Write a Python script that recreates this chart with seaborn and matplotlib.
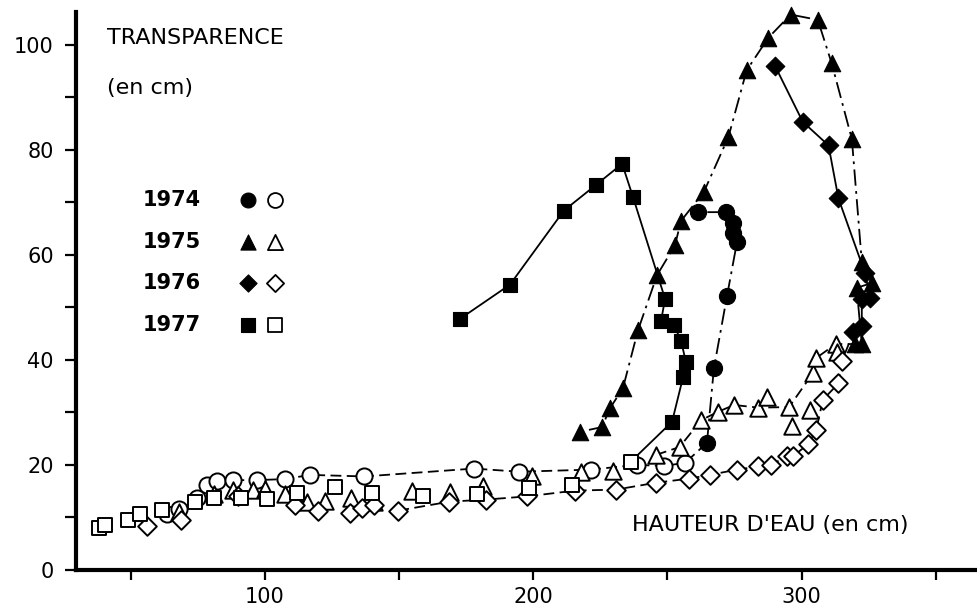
import matplotlib
matplotlib.use("Agg")
import matplotlib.pyplot as plt
from matplotlib.ticker import FixedLocator
import seaborn as sns

# ---- data: water height (cm) vs. Secchi transparency (cm) ----
years = ["1974", "1975", "1976", "1977"]

# 1974 (circles)
open_1974_x = [63.6, 68.1, 74.8, 78.3, 82.2, 88.0, 96.9, 107.5, 116.8, 137.0,
               177.9, 194.8, 221.4, 238.5, 248.7, 256.6]
open_1974_y = [10.7, 11.6, 13.7, 16.2, 17.0, 17.1, 17.1, 17.3, 18.1, 17.8,
               19.3, 18.7, 19.1, 20.0, 19.8, 20.4]
open_1974_joined = [0, 0, 0, 0, 1, 1, 1, 1, 1, 1, 1, 1, 1, 1, 1, 1]
fill_1974_x = [264.7, 267.3, 272.2, 275.9, 274.4, 274.4, 271.8, 261.4]
fill_1974_y = [24.2, 38.4, 52.2, 62.4, 64.1, 66.0, 68.1, 68.1]

# 1975 (triangles)
open_1975_x = [68.1, 81.0, 88.0, 95.6, 100.0, 107.5, 112.0, 115.8, 122.4, 132.1,
               140.6, 154.7, 168.9, 181.4, 199.4, 217.8, 229.7, 245.7, 254.5, 262.5,
               268.8, 274.8, 283.9, 287.0, 295.3, 296.5, 303.1, 304.1, 305.3, 312.7,
               313.1]
open_1975_y = [11.0, 14.5, 15.3, 15.3, 15.4, 14.5, 13.7, 12.9, 13.2, 13.7,
               12.9, 15.1, 14.9, 15.9, 17.8, 18.7, 18.8, 21.9, 23.4, 28.5,
               30.1, 31.4, 30.9, 32.9, 31.0, 27.4, 30.5, 37.4, 40.3, 43.0,
               41.4]
open_1975_joined = [0, 0, 0, 0, 0, 0, 0, 0, 0, 0,
                    0, 0, 0, 0, 0, 0, 0, 1, 1, 1,
                    1, 1, 1, 0, 1, 0, 0, 1, 1, 1,
                    0]
fill_1975_x = [319.9, 322.4, 320.5, 326.1, 322.4, 318.7, 311.2, 306.0, 295.9, 287.6,
               279.5, 272.7, 263.6, 255.0, 252.8, 246.1, 239.0, 233.4, 228.6, 225.6,
               217.4]
fill_1975_y = [43.0, 43.0, 53.7, 54.6, 58.7, 82.0, 96.4, 104.7, 105.7, 101.3,
               95.1, 82.4, 72.0, 66.4, 61.8, 56.1, 45.6, 34.6, 30.8, 27.2,
               26.3]

# 1976 (diamonds)
open_1976_x = [56.1, 68.6, 89.8, 111.2, 119.9, 131.7, 136.0, 140.6, 149.7, 168.7,
               182.4, 197.5, 215.5, 230.8, 245.7, 258.2, 265.9, 275.8, 283.9, 288.5,
               294.4, 296.9, 302.3, 305.4, 307.9, 313.7, 315.0]
open_1976_y = [8.4, 9.6, 14.0, 12.4, 11.3, 10.8, 11.8, 12.4, 11.3, 13.0,
               13.4, 14.0, 15.1, 15.3, 16.6, 17.4, 18.1, 19.1, 19.7, 20.0,
               21.6, 21.7, 23.9, 26.6, 32.4, 35.5, 39.8]
open_1976_joined = [0, 0, 0, 0, 0, 0, 0, 0, 1, 1,
                    1, 1, 1, 1, 1, 1, 1, 1, 1, 1,
                    1, 1, 1, 1, 1, 1, 1]
fill_1976_x = [319.3, 322.4, 322.4, 325.5, 323.6, 313.7, 310.0, 300.4, 290.1]
fill_1976_y = [45.2, 46.4, 51.5, 51.8, 56.5, 70.7, 80.8, 85.3, 95.9]

# 1977 (squares)
open_1977_x = [38.2, 40.4, 49.0, 53.4, 61.5, 73.9, 81.1, 91.0, 100.9, 111.8,
               126.1, 139.8, 159.0, 178.9, 198.5, 214.3, 236.3]
open_1977_y = [8.0, 8.6, 9.6, 10.7, 11.5, 13.0, 13.7, 13.7, 13.5, 14.7,
               15.7, 14.6, 14.0, 14.5, 15.6, 16.2, 20.6]
open_1977_joined = [0, 0, 0, 0, 0, 0, 0, 0, 0, 0,
                    0, 0, 0, 0, 0, 0, 1]
fill_1977_x = [251.7, 255.8, 256.9, 255.1, 252.4, 247.6, 249.1, 237.2, 233.1, 223.4,
               211.4, 191.3, 172.7]
fill_1977_y = [28.2, 36.7, 39.5, 43.5, 46.7, 47.4, 51.6, 70.9, 77.3, 73.3,
               68.4, 54.3, 47.8]

x_ticks = [50, 100, 150, 200, 250, 300, 350]
x_tick_labels = ["", "100", "", "200", "", "300", ""]
y_ticks = [0, 20, 40, 60, 80, 100]
y_minor_ticks = [10, 30, 50, 70, 90]

series = [
    # marker, marker area, open data, filled data, open line style, filled line style
    ("o", 135, (open_1974_x, open_1974_y, open_1974_joined), (fill_1974_x, fill_1974_y),
     (0, (6, 3)), (0, (9, 3, 1.5, 3))),
    ("^", 140, (open_1975_x, open_1975_y, open_1975_joined), (fill_1975_x, fill_1975_y),
     (0, (6, 3)), (0, (9, 3, 1.5, 3))),
    ("D", 90, (open_1976_x, open_1976_y, open_1976_joined), (fill_1976_x, fill_1976_y),
     (0, (6, 3)), "-"),
    ("s", 115, (open_1977_x, open_1977_y, open_1977_joined), (fill_1977_x, fill_1977_y),
     "-", "-"),
]

sns.set_theme(style="white")
plt.rcParams["font.family"] = ["DejaVu Sans"]
plt.rcParams["text.color"] = "black"

fig = plt.figure(figsize=(9.78, 6.10), dpi=100)
ax = fig.add_axes([0.0777, 0.0656, 0.9223, 0.9148])

for marker, area, (ox, oy, oj), (fx, fy), open_ls, fill_ls in series:
    # connecting line along the open symbols, leading into the filled branch
    jx = [x for x, j in zip(ox, oj) if j] + [fx[0]]
    jy = [y for y, j in zip(oy, oj) if j] + [fy[0]]
    if len(jx) > 1:
        sns.lineplot(x=jx, y=jy, sort=False, estimator=None, color="black",
                     linewidth=1.3, linestyle=open_ls, ax=ax, zorder=2)
    sns.lineplot(x=fx, y=fy, sort=False, estimator=None, color="black",
                 linewidth=1.3, linestyle=fill_ls, ax=ax, zorder=2)
    sns.scatterplot(x=ox, y=oy, marker=marker, s=area, color="black",
                    facecolor="white", edgecolor="black", linewidth=1.4,
                    ax=ax, zorder=3, clip_on=False)
    sns.scatterplot(x=fx, y=fy, marker=marker, s=area, color="black",
                    edgecolor="black", linewidth=0.8, ax=ax, zorder=4,
                    clip_on=False)

# key: year labels with filled / open symbols
key_rows = [0.672, 0.604, 0.536, 0.467]
for (marker, area, *_), year, yrow in zip(series, years, key_rows):
    fig.text(0.1755, yrow, year, ha="center", va="center", color="black",
             fontsize=15, fontweight="bold")
    ax.scatter([0.2536], [yrow], transform=fig.transFigure, marker=marker,
               s=area * 0.85, color="black", edgecolor="black", linewidth=0.8,
               zorder=5)
    ax.scatter([0.281], [yrow], transform=fig.transFigure, marker=marker,
               s=area * 0.85, facecolor="white", edgecolor="black",
               linewidth=1.3, zorder=5)

ax.set_xlim(29.6, 365.7)
ax.set_ylim(0, 106.2)
ax.set_xticks(x_ticks)
ax.set_xticklabels(x_tick_labels)
ax.set_yticks(y_ticks)
ax.yaxis.set_minor_locator(FixedLocator(y_minor_ticks))
ax.set_xlabel("")
ax.set_ylabel("")

sns.despine(ax=ax)
for side in ("left", "bottom"):
    ax.spines[side].set_linewidth(3.0)
    ax.spines[side].set_color("black")

ax.tick_params(axis="both", which="both", direction="out", color="black",
               labelcolor="black", labelsize=15)
ax.tick_params(axis="y", which="major", length=8, width=1.6, pad=8, left=True)
ax.tick_params(axis="y", which="minor", length=8, width=1.6, left=True)
ax.tick_params(axis="x", which="major", length=7.5, width=1.6, pad=5, bottom=True)

fig.text(0.1094, 0.9377, "TRANSPARENCE", ha="left", va="center",
         color="black", fontsize=16)
fig.text(0.1094, 0.8557, "(en cm)", ha="left", va="center",
         color="black", fontsize=16)
fig.text(0.646, 0.1393, "HAUTEUR D'EAU (en cm)", ha="left", va="center",
         color="black", fontsize=16)

fig.savefig("out.png", dpi=100, facecolor="white")
